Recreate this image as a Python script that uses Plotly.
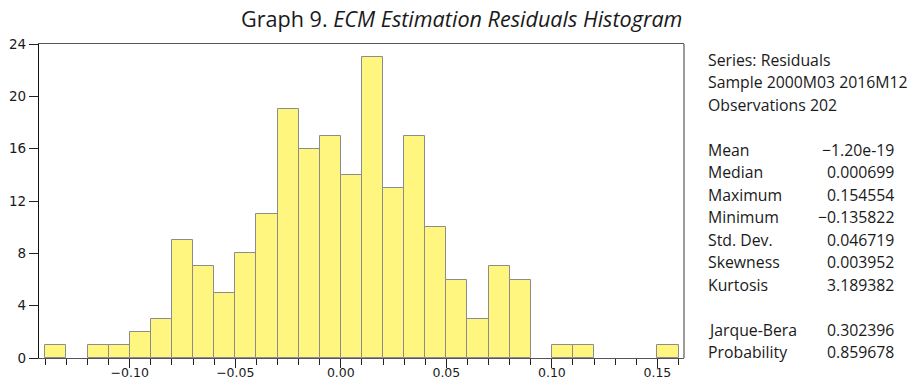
import plotly.graph_objects as go

# ---- data ----
bin_starts = [-0.14, -0.13, -0.12, -0.11, -0.10, -0.09, -0.08, -0.07, -0.06, -0.05,
              -0.04, -0.03, -0.02, -0.01, 0.00, 0.01, 0.02, 0.03, 0.04, 0.05,
              0.06, 0.07, 0.08, 0.09, 0.10, 0.11, 0.12, 0.13, 0.14, 0.15]
counts = [1, 0, 1, 1, 2, 3, 9, 7, 5, 8,
          11, 19, 16, 17, 14, 23, 13, 17, 10, 6,
          3, 7, 6, 0, 1, 1, 0, 0, 0, 1]
bin_width = 0.01

header_lines = ["Series: Residuals", "Sample 2000M03 2016M12", "Observations 202"]
stat_names = ["Mean", "Median", "Maximum", "Minimum", "Std. Dev.", "Skewness", "Kurtosis"]
stat_values = ["\u22121.20e-19", "0.000699", "0.154554", "\u22120.135822", "0.046719", "0.003952", "3.189382"]
test_names = ["Jarque-Bera", "Probability"]
test_values = ["0.302396", "0.859678"]

title_text = "Graph 9. <i>ECM Estimation Residuals Histogram</i>"

# ---- layout geometry (pixels) ----
W, H = 922, 382
L, R, T, B = 39.3, 684.0, 44.0, 357.7

bar_centers = [s + bin_width / 2 for s in bin_starts]
shown = [(c, n) for c, n in zip(bar_centers, counts) if n > 0]

fig = go.Figure()
fig.add_trace(go.Bar(
    x=[c for c, _ in shown], y=[n for _, n in shown], width=bin_width,
    marker=dict(color="#FFF680", line=dict(color="#8c8c8c", width=1)),
    hoverinfo="skip", showlegend=False,
))

def px_x(px):
    return (px - L) / (R - L)

def px_y(py):
    return (B - py) / (B - T)

annotations = []
stat_font = dict(family="Open Sans", size=15.8, color="#1a1a1a")
line_h = 22.5
y0 = 59.5
rows = []
for i, t in enumerate(header_lines):
    rows.append((t, None, y0 + i * line_h))
for i, (n, v) in enumerate(zip(stat_names, stat_values)):
    rows.append((n, v, y0 + (4 + i) * line_h))
for i, (n, v) in enumerate(zip(test_names, test_values)):
    rows.append((n, v, y0 + (12 + i) * line_h))
for name, val, py in rows:
    annotations.append(dict(text=name, x=px_x(706), y=px_y(py), xref="paper", yref="paper",
                            xanchor="left", yanchor="middle", showarrow=False, font=stat_font))
    if val is not None:
        annotations.append(dict(text=val, x=px_x(896), y=px_y(py), xref="paper", yref="paper",
                                xanchor="right", yanchor="middle", showarrow=False, font=stat_font))

annotations.append(dict(text=title_text, x=px_x(462), y=px_y(19), xref="paper", yref="paper",
                        xanchor="center", yanchor="middle", showarrow=False,
                        font=dict(family="Open Sans", size=21.6, color="#1a1a1a")))

fig.update_layout(
    width=W, height=H,
    margin=dict(l=L, r=W - R, t=T, b=H - B, pad=0, autoexpand=False),
    paper_bgcolor="white", plot_bgcolor="white",
    bargap=0,
    annotations=annotations,
    shapes=[dict(type="line", xref="paper", yref="paper", x0=1, x1=1, y0=0, y1=1,
                 line=dict(color="#666666", width=1.3))],
    xaxis=dict(
        range=[-0.143, 0.1626], tick0=0, dtick=0.05, tickformat=".2f",
        ticks="outside", ticklen=9, tickcolor="#222", tickwidth=1,
        minor=dict(tick0=-0.14, dtick=0.01, ticks="outside", ticklen=6, tickcolor="#222", tickwidth=1),
        showline=True, linecolor="#555555", linewidth=1.3, mirror=True,
        showgrid=False, zeroline=False, automargin=False,
        ticklabelstandoff=-6,
        tickfont=dict(family="DejaVu Sans", size=12.5, color="#1a1a1a"),
    ),
    yaxis=dict(
        range=[0, 24], tick0=0, dtick=4,
        ticks="outside", ticklen=9, tickcolor="#222", tickwidth=1,
        showline=True, linecolor="#111111", linewidth=1.3,
        showgrid=False, zeroline=False, automargin=False,
        tickfont=dict(family="DejaVu Sans", size=13.5, color="#1a1a1a"),
    ),
)

fig.write_html("out.html")
